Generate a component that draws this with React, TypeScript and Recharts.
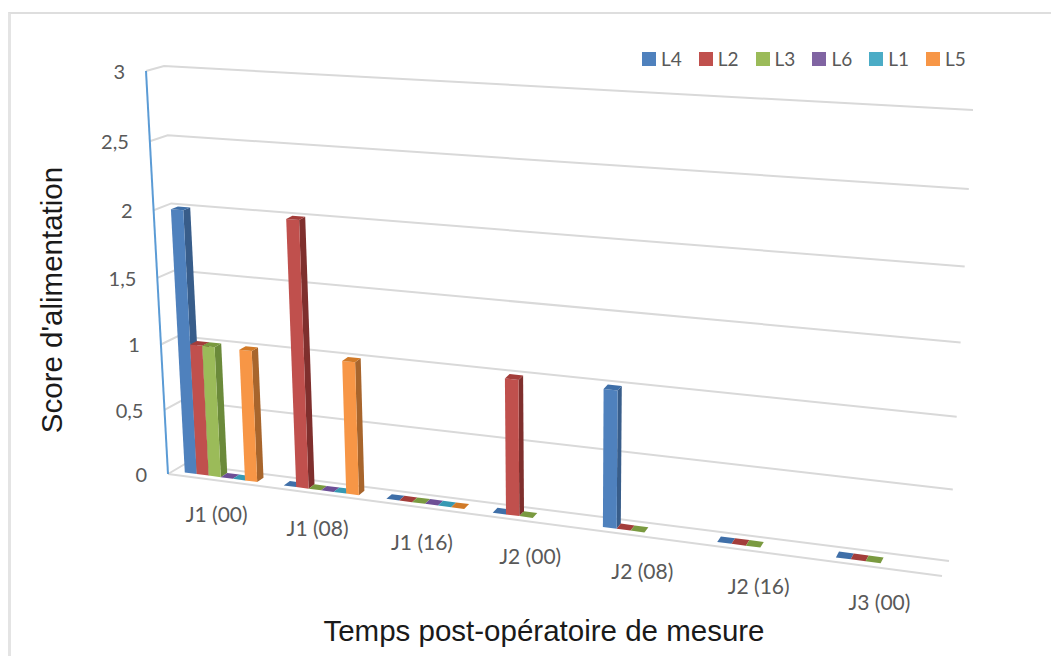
import { BarChart, Bar, XAxis, YAxis, CartesianGrid, Legend, Customized } from "recharts";

const CATEGORIES = ["J1 (00)", "J1 (08)", "J1 (16)", "J2 (00)", "J2 (08)", "J2 (16)", "J3 (00)"];
const L4 = [2, 0, 0, 0, 1, 0, 0];
const L2 = [1, 2, 0, 1, 0, 0, 0];
const L3 = [1, 0, 0, 0, 0, 0, 0];
const L6 = [0, 0, 0, null, null, null, null];
const L1 = [0, 0, 0, null, null, null, null];
const L5 = [1, 1, 0, null, null, null, null];
const Y_TICKS = [0, 0.5, 1, 1.5, 2, 2.5, 3];

const data = CATEGORIES.map((name, i) => ({
  name, L4: L4[i], L2: L2[i], L3: L3[i], L6: L6[i], L1: L1[i], L5: L5[i],
}));

// front, side, top colours of each series
const SERIES = [
  { key: "L4", front: "#4f81bd", side: "#385d8a", top: "#3f6fa8" },
  { key: "L2", front: "#c0504d", side: "#7f2f2d", top: "#a33d3a" },
  { key: "L3", front: "#9bbb59", side: "#6b8a3a", top: "#7a9a40" },
  { key: "L6", front: "#8064a2", side: "#5c4776", top: "#6d4f96" },
  { key: "L1", front: "#4bacc6", side: "#2f7d92", top: "#3799b3" },
  { key: "L5", front: "#f79646", side: "#a8652c", top: "#d17a28" },
];

const GRID = "#d9d9d9";
const TEXT = "#595959";

// inner plot rectangle handed to recharts, everything is then projected from it
const PLOT = { x: 100, y: 100, w: 800, h: 400 };

type Pt = [number, number];

// unit square to quad, order: bottom-left, bottom-right, top-right, top-left
function homography(q: Pt[]) {
  const [[x0, y0], [x1, y1], [x2, y2], [x3, y3]] = q;
  const dx1 = x1 - x2, dx2 = x3 - x2, sx = x0 - x1 + x2 - x3;
  const dy1 = y1 - y2, dy2 = y3 - y2, sy = y0 - y1 + y2 - y3;
  const den = dx1 * dy2 - dx2 * dy1;
  const g = (sx * dy2 - dx2 * sy) / den;
  const h = (dx1 * sy - sx * dy1) / den;
  const a = x1 - x0 + g * x1, b = x3 - x0 + h * x3;
  const d = y1 - y0 + g * y1, e = y3 - y0 + h * y3;
  return (u: number, w: number): Pt => {
    const k = g * u + h * w + 1;
    return [(a * u + b * w + x0) / k, (d * u + e * w + y0) / k];
  };
}

const backWall = homography([[185, 464], [949, 561], [973, 110], [164, 66]]);
const frontWall = homography([[168, 474], [942, 576], [966, 122], [146, 71]]);

// plot pixel + depth (0 front, 1 back) to screen
const project = (px: number, py: number, depth: number): Pt => {
  const u = (px - PLOT.x) / PLOT.w;
  const w = 1 - (py - PLOT.y) / PLOT.h;
  const f = frontWall(u, w);
  const b = backWall(u, w);
  return [f[0] + (b[0] - f[0]) * depth, f[1] + (b[1] - f[1]) * depth];
};

const poly = (pts: Pt[]) => pts.map((p) => p.map((n) => n.toFixed(1)).join(",")).join(" ");

const BAR_FRONT = 0.3;
const BAR_BACK = 0.7;

const Bar3D = (props: any) => {
  const { x, y, width, height, colors, value } = props;
  const v = Array.isArray(value) ? value[1] : value;
  if (v === null || v === undefined) return null;
  const b = y + height;
  const fl = project(x, b, BAR_FRONT), fr = project(x + width, b, BAR_FRONT);
  const tl = project(x, y, BAR_FRONT), tr = project(x + width, y, BAR_FRONT);
  const bbr = project(x + width, b, BAR_BACK);
  const tbr = project(x + width, y, BAR_BACK), tbl = project(x, y, BAR_BACK);
  return (
    <g>
      {height > 0 && <polygon points={poly([fr, bbr, tbr, tr])} fill={colors.side} />}
      {height > 0 && <polygon points={poly([fl, fr, tr, tl])} fill={colors.front} />}
      <polygon points={poly([tl, tr, tbr, tbl])} fill={colors.top} />
    </g>
  );
};

const GridLine3D = (props: any) => {
  const { x1, x2, y1 } = props;
  return (
    <polyline
      points={poly([project(x1, y1, 0), project(x1, y1, 1), project(x2, y1, 1)])}
      fill="none" stroke={GRID} strokeWidth={2}
    />
  );
};

const FloorAndAxis = () => {
  const left = PLOT.x, right = PLOT.x + PLOT.w, bottom = PLOT.y + PLOT.h;
  return (
    <g>
      <polyline points={poly([project(left, bottom, 0), project(right, bottom, 0)])}
        fill="none" stroke={GRID} strokeWidth={2} />
      <polyline points={poly([project(left, PLOT.y, 0), project(left, bottom, 0)])}
        fill="none" stroke="#5b9bd5" strokeWidth={2} />
    </g>
  );
};

const XTick = ({ x, payload }: any) => {
  const p = project(x, PLOT.y + PLOT.h, 0);
  return (
    <text x={p[0] - 0.5} y={p[1] + 42} textAnchor="middle" fontFamily="Lato" fontSize={21} fill={TEXT}>
      {payload.value}
    </text>
  );
};

const YTick = ({ y, payload }: any) => {
  const p = project(PLOT.x, y, 0);
  return (
    <text x={p[0] - 21} y={p[1] + 8} textAnchor="end" fontFamily="Lato" fontSize={20} fill={TEXT}>
      {String(payload.value).replace(".", ",")}
    </text>
  );
};

const LegendBox = ({ payload }: any) => (
  <div style={{ display: "flex", fontFamily: "Lato", fontSize: 19, color: TEXT }}>
    {(payload || []).map((p: any) => (
      <div key={p.value} style={{ width: 56.8, display: "flex", alignItems: "center" }}>
        <span style={{ width: 14, height: 14, background: p.color, marginRight: 5 }} />
        <span>{p.value}</span>
      </div>
    ))}
  </div>
);

export default function App() {
  return (
    <div style={{ position: "absolute", left: 0, top: 0, width: 1051, height: 656, overflow: "hidden", background: "#fff" }}>
      <div style={{ position: "absolute", left: 8, top: 12, width: 1060, height: 670, borderLeft: "3px solid #e4e4e4", borderTop: "2px solid #dedede" }} />
      <BarChart
        width={1051} height={656} data={data}
        margin={{ top: PLOT.y, left: PLOT.x - 1, right: 1051 - PLOT.x - PLOT.w, bottom: 656 - PLOT.y - PLOT.h - 1 }}
        barCategoryGap="12%" barGap={0}
        style={{ position: "absolute", left: 0, top: 0 }}
      >
        <CartesianGrid vertical={false} horizontal={GridLine3D as any} />
        <Customized component={FloorAndAxis} />
        <XAxis dataKey="name" height={1} axisLine={false} tickLine={false} interval={0} tick={XTick as any} />
        <YAxis width={1} domain={[0, 3]} ticks={Y_TICKS} axisLine={false} tickLine={false} interval={0} tick={YTick as any} />
        <Legend content={LegendBox as any} layout="horizontal" verticalAlign="middle" itemSorter={null as any}
          wrapperStyle={{ left: 642, top: 47, width: 345, bottom: "auto" }} />
        {SERIES.map((s) => (
          <Bar key={s.key} dataKey={s.key} fill={s.front} isAnimationActive={false}
            shape={(p: any) => <Bar3D {...p} colors={s} />} />
        ))}
        <text x={544} y={641} textAnchor="middle" fontFamily="Liberation Sans" fontSize={29.5} fill="#1a1a1a">
          Temps post-opératoire de mesure
        </text>
        <text x={0} y={0} transform="translate(62,300) rotate(-90)" textAnchor="middle" fontFamily="Liberation Sans" fontSize={29.5} fill="#1a1a1a">
          Score d'alimentation
        </text>
      </BarChart>
    </div>
  );
}
